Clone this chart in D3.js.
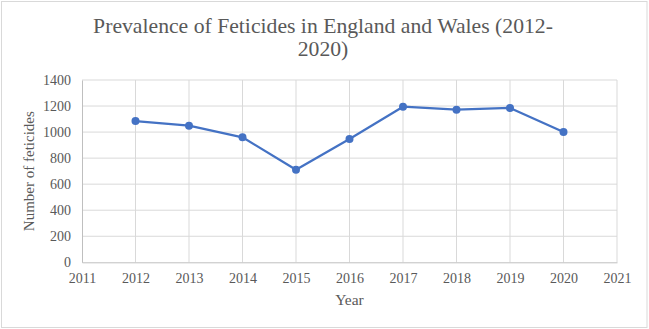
<!DOCTYPE html>
<html>
<head>
<meta charset="utf-8">
<script src="https://cdn.jsdelivr.net/npm/d3@7"></script>
<style>
  body { margin: 0; background: #fff; }
  text { font-family: "Liberation Serif", "Times New Roman", serif; fill: #595959; }
</style>
</head>
<body>
<script>
var years = [2012, 2013, 2014, 2015, 2016, 2017, 2018, 2019, 2020];
var feticides = [1085, 1049, 960, 711, 947, 1195, 1172, 1185, 1000];
var xTicks = [2011, 2012, 2013, 2014, 2015, 2016, 2017, 2018, 2019, 2020, 2021];
var yTicks = [0, 200, 400, 600, 800, 1000, 1200, 1400];
var titleLines = ["Prevalence of Feticides in England and Wales (2012-", "2020)"];

var WIDTH = 649, HEIGHT = 329;
var LEFT = 82, RIGHT = 617, TOP = 80, BOTTOM = 262.3;

var translate = function (x, y) {
  return "translate(" + x + "," + y + ")";
};

var xScale = d3.scaleLinear().domain([2011, 2021]).range([LEFT, RIGHT]);
var yScale = d3.scaleLinear().domain([0, 1400]).range([BOTTOM, TOP]);

var svg = d3.select("body").append("svg")
  .attr("width", WIDTH)
  .attr("height", HEIGHT);

// chart frame
svg.append("rect")
  .attr("x", 1.5).attr("y", 1.5)
  .attr("width", WIDTH - 3.5).attr("height", HEIGHT - 3)
  .attr("fill", "#fff")
  .attr("stroke", "#d9d9d9");

// title
svg.append("g").selectAll("text")
  .data(titleLines)
  .enter().append("text")
  .attr("x", 323)
  .attr("y", function (d, i) { return 32.5 + i * 23.5; })
  .attr("text-anchor", "middle")
  .style("font-size", "21.7px")
  .text(function (d) { return d; });

// gridlines
var grid = svg.append("g");
grid.selectAll("line.h")
  .data(yTicks.slice(1))
  .enter().append("line")
  .attr("x1", LEFT).attr("x2", RIGHT)
  .attr("y1", function (d) { return yScale(d); })
  .attr("y2", function (d) { return yScale(d); })
  .attr("stroke", "#d9d9d9");
grid.selectAll("line.v")
  .data(xTicks.slice(1))
  .enter().append("line")
  .attr("y1", TOP).attr("y2", BOTTOM)
  .attr("x1", function (d) { return xScale(d); })
  .attr("x2", function (d) { return xScale(d); })
  .attr("stroke", "#d9d9d9");

// axes
var xAxis = d3.axisBottom(xScale).tickValues(xTicks).tickFormat(d3.format("d")).tickSize(0).tickPadding(11);
var yAxis = d3.axisLeft(yScale).tickValues(yTicks).tickFormat(d3.format("d")).tickSize(0).tickPadding(11);

var gx = svg.append("g").attr("transform", translate(0, BOTTOM)).call(xAxis);
var gy = svg.append("g").attr("transform", translate(LEFT, 0)).call(yAxis);
gx.select(".domain").attr("stroke", "#bfbfbf");
gy.select(".domain").attr("stroke", "#bfbfbf");
svg.selectAll(".tick text").style("font-size", "14px").attr("fill", "#595959");

// axis titles
svg.append("text")
  .attr("x", (LEFT + RIGHT) / 2)
  .attr("y", 305)
  .attr("text-anchor", "middle")
  .style("font-size", "15.5px")
  .text("Year");

svg.append("text")
  .attr("transform", translate(34, (TOP + BOTTOM) / 2) + " rotate(-90)")
  .attr("text-anchor", "middle")
  .style("font-size", "15px")
  .text("Number of feticides");

// series
var line = d3.line()
  .x(function (d, i) { return xScale(years[i]); })
  .y(function (d) { return yScale(d); });

svg.append("path")
  .attr("d", line(feticides))
  .attr("fill", "none")
  .attr("stroke", "#4472c4")
  .attr("stroke-width", 2.25)
  .attr("stroke-linejoin", "round");

svg.append("g").selectAll("circle")
  .data(feticides)
  .enter().append("circle")
  .attr("cx", function (d, i) { return xScale(years[i]); })
  .attr("cy", function (d) { return yScale(d); })
  .attr("r", 4)
  .attr("fill", "#4472c4");
</script>
</body>
</html>
